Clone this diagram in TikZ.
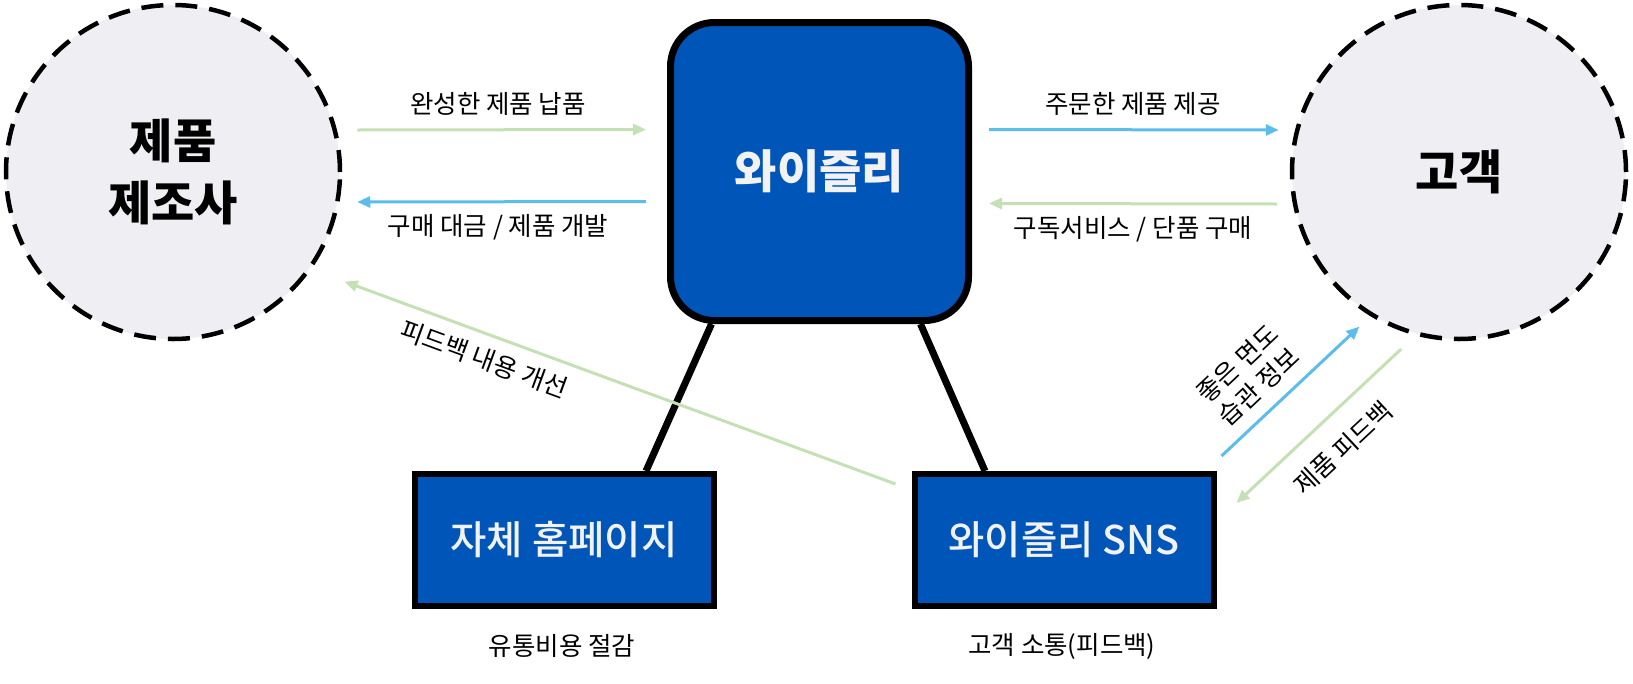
\documentclass[tikz,border=0pt]{standalone}
\usepackage{fontspec}
\setmainfont{Noto Sans CJK KR}
\newfontfamily\medfont{Noto Sans CJK KR Medium}
\usetikzlibrary{arrows.meta}
\definecolor{wblue}{HTML}{0055B8}
\definecolor{cgray}{HTML}{EEEEF3}
\definecolor{lgreen}{HTML}{C5E0B4}
\definecolor{lblue}{HTML}{5BBDEB}
\definecolor{boxtext}{HTML}{F2F2F2}

\begin{document}
\begin{tikzpicture}[x=1pt,y=-1pt]
	\tikzset{party/.style = {shape=circle, draw, fill=cgray, line width=4.5pt, dash pattern=on 22pt off 12pt, minimum size=334pt, inner sep=0pt, align=center, font=\fontsize{47}{62}\selectfont\bfseries}}
	\tikzset{hub/.style = {shape=rectangle, draw, fill=wblue, rounded corners=44pt, line width=7pt, minimum width=298pt, minimum height=298pt, text=boxtext, font=\fontsize{46}{50}\selectfont\bfseries}}
	\tikzset{channel/.style = {shape=rectangle, draw, fill=wblue, line width=6pt, minimum width=299pt, minimum height=132pt, text=boxtext, font=\fontsize{39.5}{44}\medfont}}
	\tikzset{flow/.style = {line width=3pt, -{Triangle[length=13pt,width=11pt]}}}
	\tikzset{tag/.style = {font=\fontsize{25.5}{31}\selectfont, align=center}}
	\tikzset{leg/.style = {line width=7pt}}

	\useasboundingbox (0,0) rectangle (1633,683);

	\node[party] (maker) at (173,172) {제품\\제조사};
	\node[party] (customer) at (1459,172) {고객};
	\node[hub] (wisely) at (819.5,171.5) {와이즐리};

	\node[channel] (homepage) at (564,540) {자체 홈페이지};
	\node[channel] (sns) at (1064,540) {와이즐리 SNS};


	\draw[leg] ([xshift=-108pt]wisely.south) -- ([xshift=82pt]homepage.north);
	\draw[leg] ([xshift=101pt]wisely.south) -- ([xshift=-79pt]sns.north);


	\draw[flow, lgreen] ([shift={(15,-42)}]maker.east) -- ([shift={(-21,-42)}]wisely.west);
	\draw[flow, lblue] ([shift={(-21,30)}]wisely.west) -- ([shift={(15,30)}]maker.east);
	\draw[flow, lblue] ([shift={(17,-42)}]wisely.east) -- ([shift={(-11,-42)}]customer.west);
	\draw[flow, lgreen] ([shift={(-13,32)}]customer.west) -- ([shift={(17,32)}]wisely.east);

	\draw[flow, lgreen] ([shift={(-16,-56)}]sns.west) -- ([shift={(25,25)}]maker.-30);
	\draw[flow, lblue] ([shift={(5,-15)}]sns.north east) -- ([shift={(-15,8)}]customer.-120);
	\draw[flow, lgreen] ([shift={(0,18)}]customer.-110) -- ([shift={(20,-37)}]sns.east);


	\node[tag] (deliverTag) at (498,104) {완성한 제품 납품};
	\node[tag] (payTag) at (498,227) {구매 대금 / 제품 개발};
	\node[tag] (supplyTag) at (1133,104) {주문한 제품 제공};
	\node[tag] (orderTag) at (1133,229) {구독서비스 / 단품 구매};
	\node[tag, rotate=-20.2] (improveTag) at (484,359) {피드백 내용 개선};
	\node[tag, rotate=43.3] (habitTag) at (1248,375) {좋은 면도\\습관 정보};
	\node[tag, rotate=43] (reviewTag) at (1343,448) {제품 피드백};

	\node[tag] (saveTag) at (562,646) {유통비용 절감};
	\node[tag] (talkTag) at (1062,646) {고객 소통(피드백)};

\end{tikzpicture}
\end{document}
